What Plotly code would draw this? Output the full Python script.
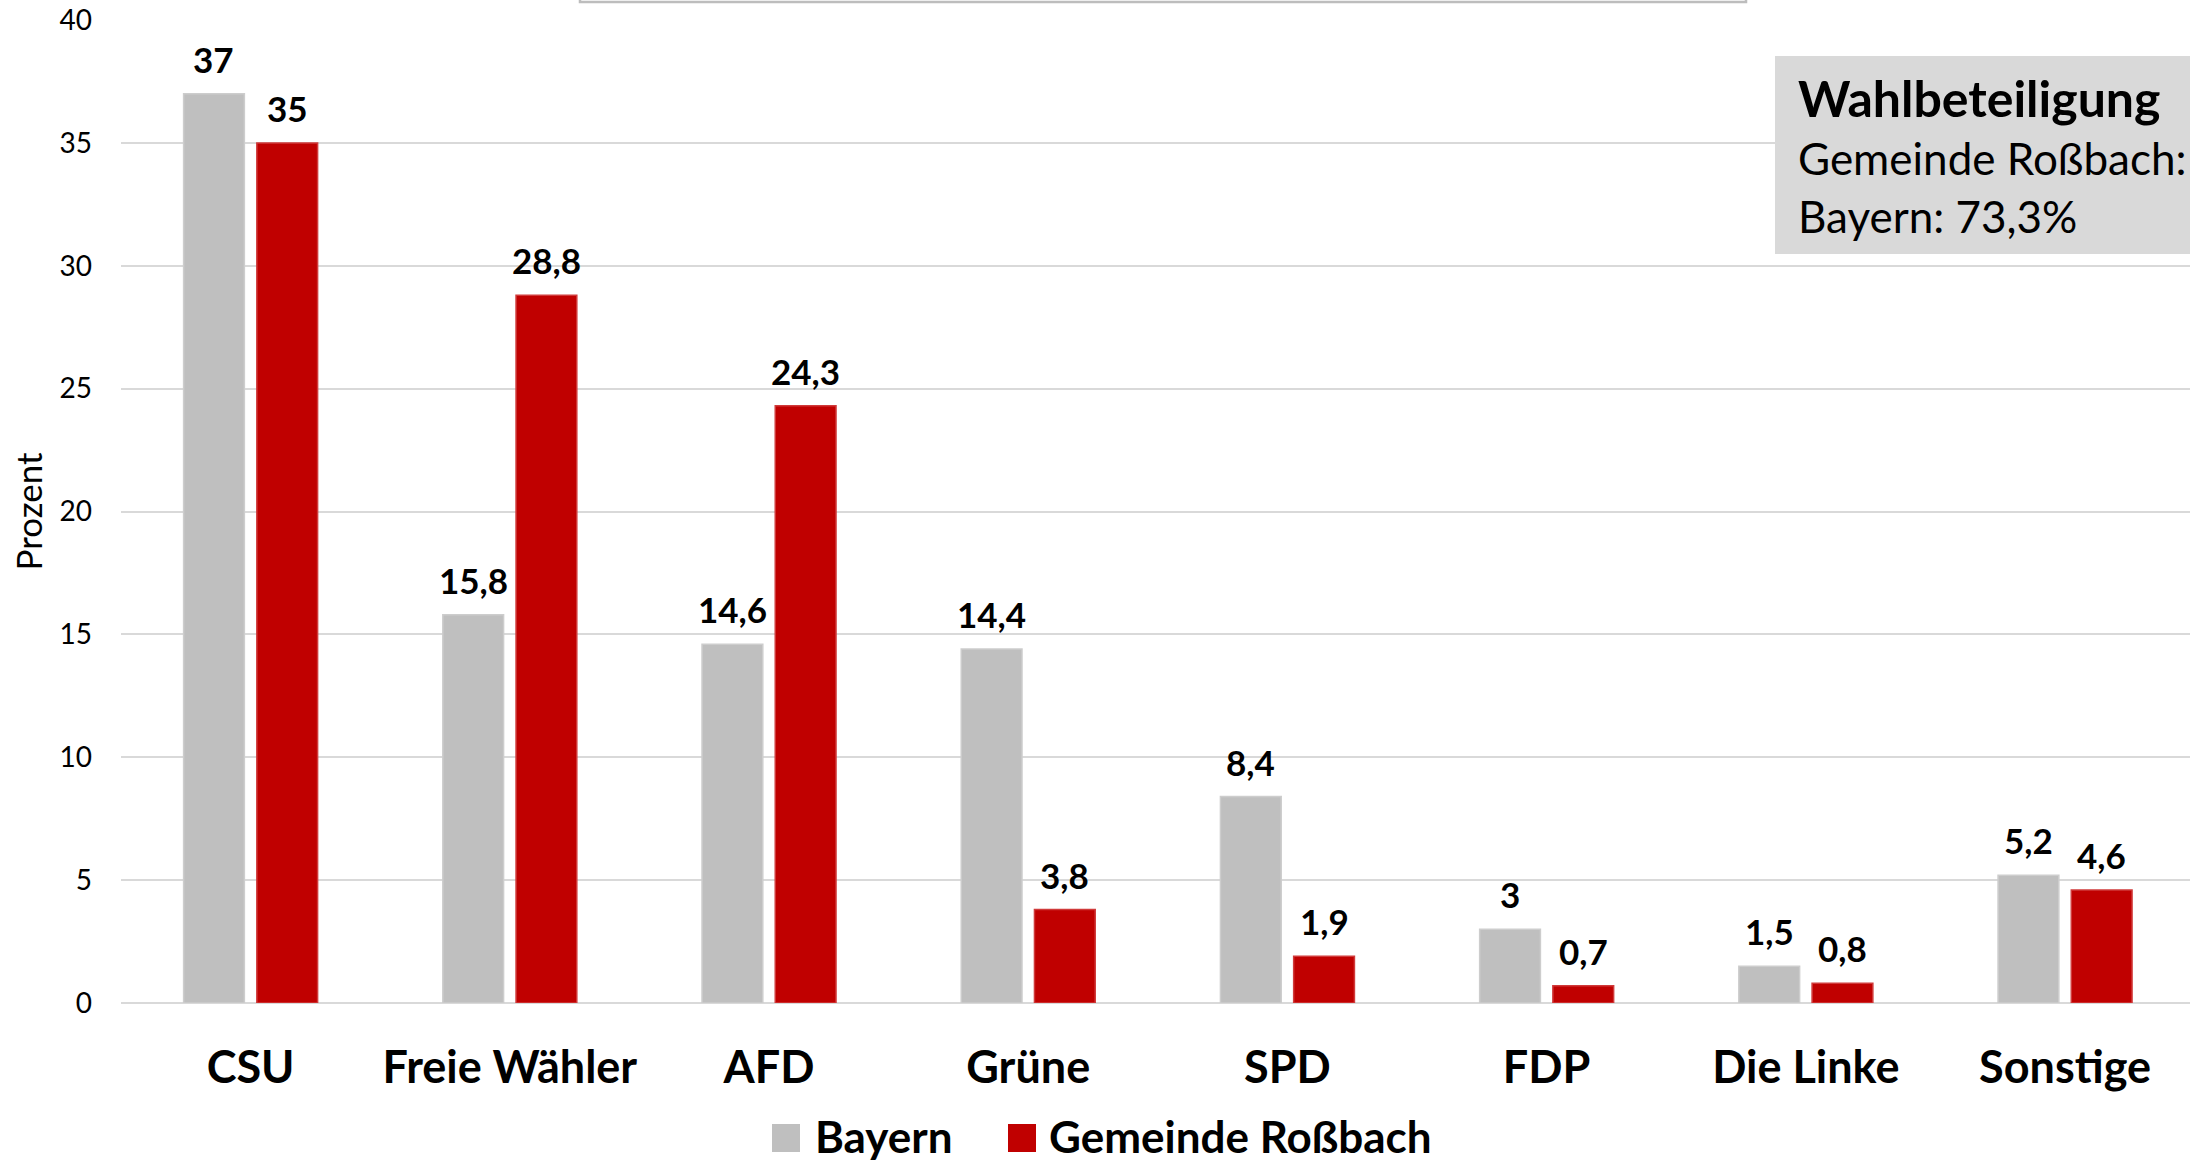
import plotly.graph_objects as go

categories = ["CSU", "Freie Wähler", "AFD", "Grüne", "SPD", "FDP", "Die Linke", "Sonstige"]
bayern = [37, 15.8, 14.6, 14.4, 8.4, 3, 1.5, 5.2]
rossbach = [35, 28.8, 24.3, 3.8, 1.9, 0.7, 0.8, 4.6]
series_names = ["Bayern", "Gemeinde Roßbach"]
y_ticks = [0, 5, 10, 15, 20, 25, 30, 35, 40]
turnout_title = "Wahlbeteiligung"
turnout_lines = ["Gemeinde Roßbach:", "Bayern: 73,3%"]

GRAY = "#BFBFBF"
RED = "#C00000"
FONT = "Lato"

W, H = 2190, 1168
ML, MR, MT, MB = 121, 0, 20, 165
PW = W - ML - MR
PH = H - MT - MB
X_RANGE = [-0.5, 7.482]
BARGAP, GROUPGAP = 0.435, 0.17


def fmt(v):
    return f"{v:g}".replace(".", ",")


fig = go.Figure()
fig.add_trace(go.Bar(
    name=series_names[0], x=categories, y=bayern,
    marker=dict(color=GRAY, line=dict(color="#CDCDCD", width=1.5)),
    showlegend=False,
))
fig.add_trace(go.Bar(
    name=series_names[1], x=categories, y=rossbach,
    marker=dict(color=RED, line=dict(color="#D03A3A", width=1.5)),
    showlegend=False,
))

# data labels above bars
cat_w = PW / (X_RANGE[1] - X_RANGE[0])
slot = cat_w * (1 - BARGAP) / 2
for vals, sh in ((bayern, -slot / 2), (rossbach, slot / 2)):
    for c, v in zip(categories, vals):
        fig.add_annotation(
            x=c, y=v, xref="x", yref="y", text=f"<b>{fmt(v)}</b>",
            showarrow=False, xanchor="center", yanchor="bottom",
            xshift=sh, yshift=12,
            font=dict(family=FONT, size=35, color="#000000"),
        )

shapes = []
# turnout box
shapes.append(dict(
    type="rect", xref="paper", yref="paper", xsizemode="pixel", ysizemode="pixel",
    xanchor=0, yanchor=0, x0=1775 - ML, x1=W - ML + 20,
    y0=(H - MB) - 254, y1=(H - MB) - 56,
    fillcolor="#D9D9D9", line=dict(width=0), layer="above",
))
# cut-off box at the top edge
shapes.append(dict(
    type="rect", xref="paper", yref="paper", xsizemode="pixel", ysizemode="pixel",
    xanchor=0, yanchor=1, x0=580 - ML, x1=1746 - ML, y0=MT - 2, y1=MT + 20,
    fillcolor="#FFFFFF", line=dict(width=2.5, color="#BDBDBD"), layer="above",
))

fig.add_annotation(
    xref="paper", yref="paper", x=0, y=0, xshift=1796 - ML, yshift=(H - MB) - 98,
    xanchor="left", yanchor="middle", showarrow=False,
    text=f"<b>{turnout_title}</b>", font=dict(family=FONT, size=50, color="#000000"),
)
for i, line in enumerate(turnout_lines):
    fig.add_annotation(
        xref="paper", yref="paper", x=0, y=0, xshift=1796 - ML,
        yshift=(H - MB) - (158 + 58 * i),
        xanchor="left", yanchor="middle", showarrow=False,
        text=line, font=dict(family=FONT, size=44, color="#000000"),
    )

# legend (custom, with large swatches)
leg_font = dict(family=FONT, size=44, color="#000000", weight="bold")
leg_items = [(series_names[0], GRAY, 772, 813), (series_names[1], RED, 1008, 1047)]
LEG_Y = 1136
for name, col, sx, tx in leg_items:
    shapes.append(dict(
        type="rect", xref="paper", yref="paper", xsizemode="pixel", ysizemode="pixel",
        xanchor=0, yanchor=0, x0=sx - ML, x1=sx - ML + 28,
        y0=(H - MB) - (LEG_Y + 16), y1=(H - MB) - (LEG_Y - 12),
        fillcolor=col, line=dict(width=0),
    ))
    fig.add_annotation(
        xref="paper", yref="paper", x=0, y=0, xshift=tx - ML, yshift=(H - MB) - LEG_Y,
        xanchor="left", yanchor="middle", showarrow=False,
        text=name, font=leg_font,
    )

fig.update_layout(
    width=W, height=H,
    margin=dict(l=ML, r=MR, t=MT, b=MB),
    paper_bgcolor="#FFFFFF", plot_bgcolor="#FFFFFF",
    barmode="group", bargap=BARGAP, bargroupgap=GROUPGAP,
    font=dict(family=FONT, color="#000000"),
    shapes=shapes,
    showlegend=False,
)
fig.update_xaxes(
    range=X_RANGE, showgrid=False, zeroline=False, showline=False,
    ticks="", ticklabelstandoff=34,
    tickfont=dict(family=FONT, size=45, color="#000000", weight="bold"),
)
fig.update_yaxes(
    range=[0, 40], tickvals=y_ticks, showgrid=True, gridcolor="#D9D9D9", gridwidth=2,
    zeroline=True, zerolinecolor="#D9D9D9", zerolinewidth=2, showline=False,
    ticks="", ticklabelstandoff=28,
    tickfont=dict(family=FONT, size=28, color="#000000"),
    title=dict(text="Prozent", standoff=6, font=dict(family=FONT, size=35, color="#000000")),
)

fig.write_html(
    "out.html",
    config={"displayModeBar": False},
    post_script="document.body.style.margin='0px';document.body.style.overflow='hidden';",
)
